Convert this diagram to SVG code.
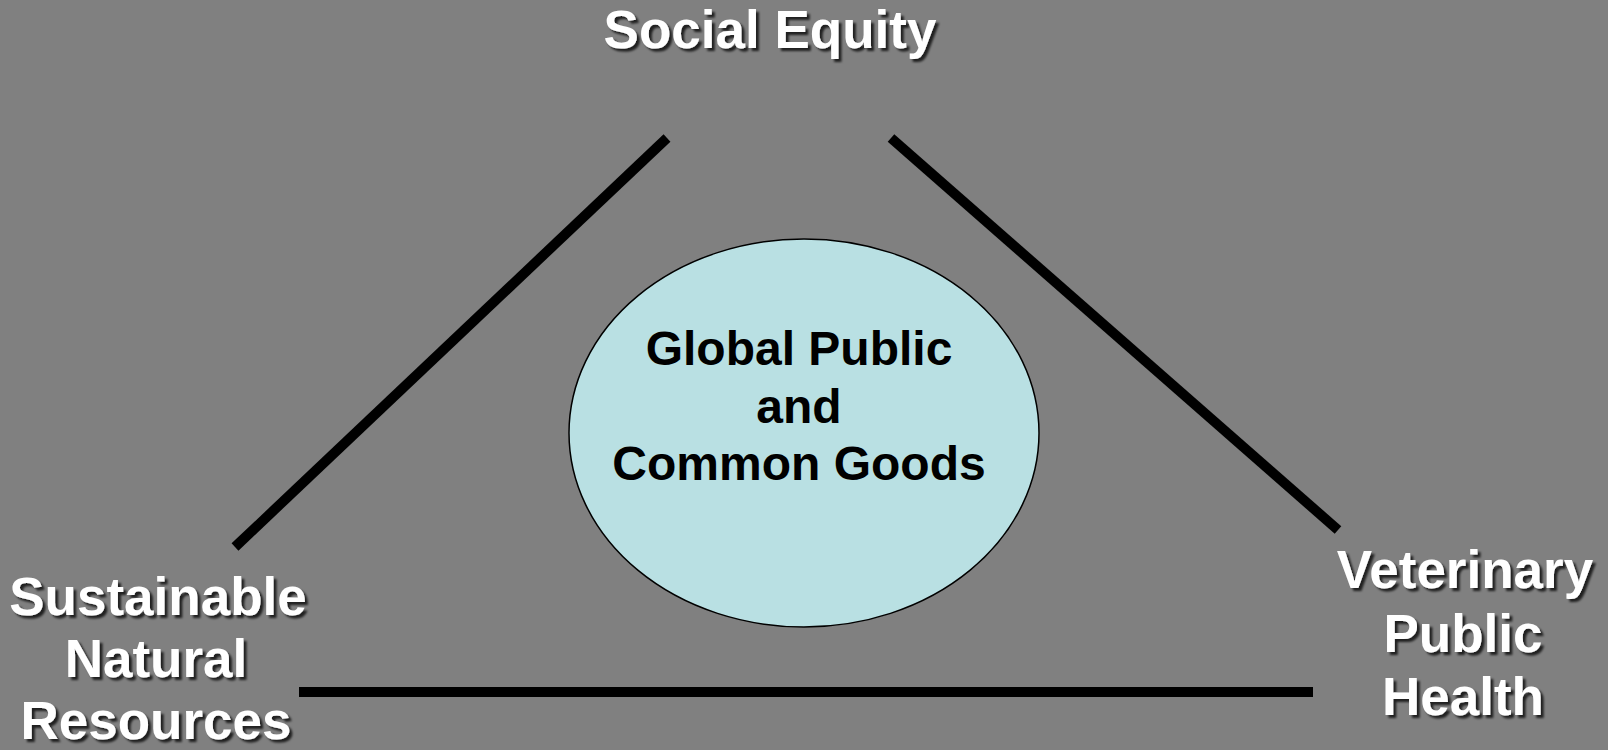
<svg xmlns="http://www.w3.org/2000/svg" width="1608" height="750" viewBox="0 0 1608 750">
  <style>
    .lbl { font-family: "Liberation Sans", Arial, sans-serif; font-weight: bold; font-size: 53px; fill: #ffffff; text-anchor: middle; filter: url(#shadow); }
    .inner { font-family: "Liberation Sans", Arial, sans-serif; font-weight: bold; font-size: 48px; fill: #000000; text-anchor: middle; }
    .edge { stroke: #000000; stroke-width: 10; fill: none; stroke-linecap: butt; }
  </style>
  <defs>
    <filter id="shadow" x="-10%" y="-20%" width="130%" height="160%">
      <feDropShadow dx="3" dy="3" stdDeviation="1" flood-color="#000000" flood-opacity="0.75"/>
    </filter>
  </defs>
  <rect x="0" y="0" width="1608" height="750" fill="#808080"/>
  <g id="connectors">
    <line class="edge" x1="667" y1="138" x2="235" y2="547"/>
    <line class="edge" x1="891" y1="138" x2="1338" y2="530"/>
    <line class="edge" x1="299" y1="692" x2="1313" y2="692"/>
  </g>
  <g id="node-center">
    <ellipse cx="804" cy="433" rx="235" ry="194" fill="#b9e0e3" stroke="#000000" stroke-width="1.5"/>
    <text class="inner" x="799" y="365">Global Public</text>
    <text class="inner" x="799" y="423">and</text>
    <text class="inner" x="799" y="480">Common Goods</text>
  </g>
  <g id="node-social">
    <text class="lbl" x="770" y="48">Social Equity</text>
  </g>
  <g id="node-natural">
    <text class="lbl" x="158" y="615">Sustainable</text>
    <text class="lbl" x="156" y="677">Natural</text>
    <text class="lbl" x="156" y="739">Resources</text>
  </g>
  <g id="node-vet">
    <text class="lbl" x="1465" y="588">Veterinary</text>
    <text class="lbl" x="1463" y="652">Public</text>
    <text class="lbl" x="1463" y="715">Health</text>
  </g>
</svg>
